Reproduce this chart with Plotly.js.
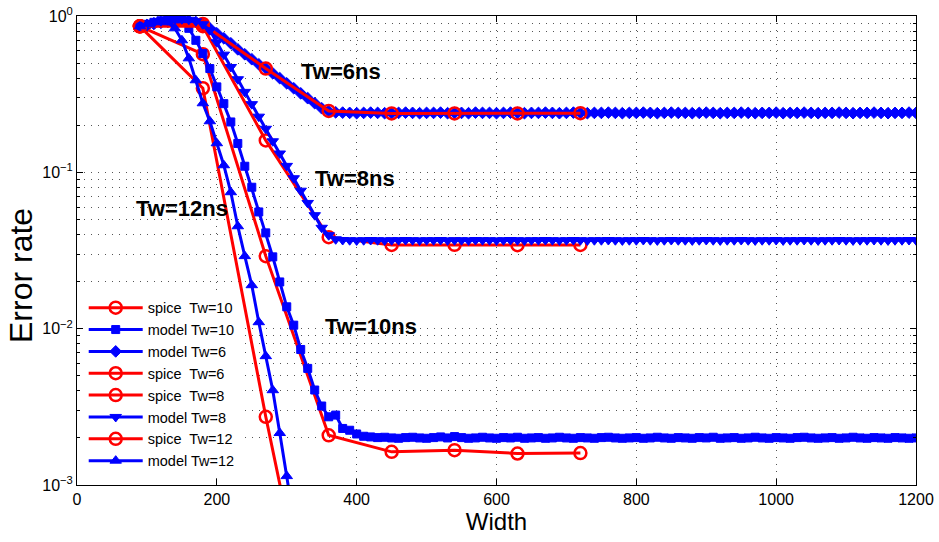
<!DOCTYPE html>
<html>
<head>
<meta charset="utf-8">
<script src="https://cdn.plot.ly/plotly-3.0.1.min.js"></script>
<style>
  html, body { margin: 0; padding: 0; background: #ffffff; }
  #chart { width: 939px; height: 542px; }
</style>
</head>
<body>
<div id="chart"></div>
<script>
// ---------------- data ----------------
const spiceX = [90, 180, 270, 360, 450, 540, 630, 720];
const spiceTw10 = [0.859, 0.57, 0.0291, 0.00208, 0.00163, 0.00167, 0.00159, 0.00160];
const spiceTw6  = [0.859, 0.89, 0.461, 0.247, 0.238, 0.238, 0.238, 0.239];
const spiceTw8  = [0.859, 0.86, 0.160, 0.0385, 0.0343, 0.0344, 0.0342, 0.0343];
const spiceTw12X = [90, 180, 270, 360];
const spiceTw12 = [0.859, 0.345, 0.00273, 0.000032];

const modelX = [90,100,110,120,130,140,150,160,170,180,
  190,200,210,220,230,240,250,260,270,280,
  290,300,310,320,330,340,350,360,370,380,
  390,400,410,420,430,440,450,460,470,480,
  490,500,510,520,530,540,550,560,570,580,
  590,600,610,620,630,640,650,660,670,680,
  690,700,710,720,730,740,750,760,770,780,
  790,800,810,820,830,840,850,860,870,880,
  890,900,910,920,930,940,950,960,970,980,
  990,1000,1010,1020,1030,1040,1050,1060,1070,1080,
  1090,1100,1110,1120,1130,1140,1150,1160,1170,1180,
  1190,1200];

const modelTw6 = [0.859,0.875,0.890,0.905,0.918,0.930,0.935,0.930,0.915,0.885,
  0.834,0.775,0.720,0.669,0.612,0.569,0.529,0.491,0.463,0.430,
  0.400,0.371,0.345,0.320,0.298,0.277,0.257,0.246,0.242,0.241,
  0.240,0.239,0.240,0.241,0.240,0.239,0.239,0.240,0.241,0.240,
  0.239,0.240,0.240,0.241,0.239,0.240,0.240,0.239,0.241,0.240,
  0.240,0.239,0.240,0.241,0.240,0.239,0.240,0.240,0.241,0.240,
  0.239,0.240,0.241,0.240,0.239,0.240,0.240,0.241,0.240,0.239,
  0.240,0.240,0.241,0.240,0.239,0.240,0.241,0.240,0.240,0.239,
  0.240,0.241,0.240,0.239,0.240,0.240,0.241,0.240,0.239,0.240,
  0.240,0.241,0.239,0.240,0.240,0.241,0.240,0.239,0.240,0.240,
  0.241,0.240,0.239,0.240,0.240,0.241,0.240,0.239,0.240,0.240,
  0.241,0.240];

const modelTw8 = [0.859,0.885,0.905,0.925,0.939,0.953,0.953,0.946,0.925,0.885,
  0.810,0.679,0.566,0.472,0.394,0.327,0.273,0.227,0.190,0.158,
  0.132,0.110,0.0917,0.0763,0.0637,0.0532,0.0442,0.0396,0.0373,0.0369,
  0.0368,0.0367,0.0368,0.0369,0.0368,0.0367,0.0368,0.0368,0.0369,0.0368,
  0.0367,0.0368,0.0368,0.0369,0.0367,0.0368,0.0368,0.0367,0.0369,0.0368,
  0.0368,0.0367,0.0368,0.0369,0.0368,0.0367,0.0368,0.0368,0.0369,0.0368,
  0.0367,0.0368,0.0369,0.0368,0.0367,0.0368,0.0368,0.0369,0.0368,0.0367,
  0.0368,0.0368,0.0369,0.0368,0.0367,0.0368,0.0369,0.0368,0.0368,0.0367,
  0.0368,0.0369,0.0368,0.0367,0.0368,0.0368,0.0369,0.0368,0.0367,0.0368,
  0.0368,0.0369,0.0367,0.0368,0.0368,0.0369,0.0368,0.0367,0.0368,0.0368,
  0.0369,0.0368,0.0367,0.0368,0.0368,0.0369,0.0368,0.0367,0.0368,0.0368,
  0.0369,0.0368];

const modelTw10 = [0.859,0.885,0.911,0.932,0.946,0.953,0.939,0.834,0.699,0.575,
  0.461,0.352,0.275,0.210,0.153,0.1094,0.0803,0.0558,0.0410,0.0288,
  0.0199,0.0138,0.01053,0.00736,0.00557,0.00405,0.00320,0.00273,0.00280,0.00230,
  0.00224,0.00212,0.00205,0.00203,0.00201,0.00202,0.00200,0.00199,0.00201,0.00202,
  0.00200,0.00199,0.00201,0.00203,0.00200,0.00204,0.00201,0.00199,0.00200,0.00202,
  0.00200,0.00199,0.00201,0.00200,0.00202,0.00199,0.00200,0.00201,0.00199,0.00200,
  0.00202,0.00200,0.00199,0.00201,0.00200,0.00199,0.00201,0.00202,0.00200,0.00199,
  0.00200,0.00201,0.00199,0.00200,0.00202,0.00200,0.00199,0.00201,0.00200,0.00199,
  0.00201,0.00200,0.00202,0.00199,0.00200,0.00201,0.00199,0.00200,0.00202,0.00200,
  0.00199,0.00201,0.00200,0.00199,0.00201,0.00202,0.00200,0.00199,0.00200,0.00201,
  0.00199,0.00200,0.00202,0.00200,0.00199,0.00201,0.00200,0.00199,0.00201,0.00200,
  0.00199,0.00200];

const modelTw12X = [90,100,110,120,130,140,150,160,170,180,
  190,200,210,220,230,240,250,260,270,280,290,300,310];
const modelTw12 = [0.859,0.885,0.911,0.925,0.911,0.834,0.699,0.536,0.388,0.2765,
  0.2122,0.1535,0.1110,0.0746,0.0452,0.0291,0.01897,0.0110,0.00667,0.00404,
  0.00215,0.00114,0.000597];

const yTickVals = [0.001, 0.01, 0.1, 1];
const yTickText = ['10<sup>\u22123</sup>', '10<sup>\u22122</sup>', '10<sup>\u22121</sup>', '10<sup>0</sup>'];
const xTickVals = [0, 200, 400, 600, 800, 1000, 1200];

const labels = [
  {text: 'Tw=6ns',  x: 378, y: 0.443},
  {text: 'Tw=8ns',  x: 397, y: 0.0917},
  {text: 'Tw=12ns', x: 150, y: 0.0589},
  {text: 'Tw=10ns', x: 421, y: 0.01038}
];

// ---------------- styling ----------------
const RED = '#ff0000';
const BLUE = '#0000ff';
const FONT = 'Liberation Sans, Arial, Helvetica, sans-serif';

function spice(name, x, y) {
  return {
    type: 'scatter', mode: 'lines+markers', name: name, x: x, y: y,
    line: {color: RED, width: 3},
    marker: {symbol: 'circle-open', size: 12, color: RED, line: {width: 2.5, color: RED}}
  };
}
function model(name, x, y, sym, size) {
  return {
    type: 'scatter', mode: 'lines+markers', name: name, x: x, y: y,
    line: {color: BLUE, width: 3},
    marker: {symbol: sym, size: size, color: BLUE, line: {width: 1, color: BLUE}}
  };
}

const traces = [
  spice('spice  Tw=10', spiceX, spiceTw10),
  model('model Tw=10', modelX, modelTw10, 'square', 8),
  model('model Tw=6', modelX, modelTw6, 'diamond', 9),
  spice('spice  Tw=6', spiceX, spiceTw6),
  spice('spice  Tw=8', spiceX, spiceTw8),
  model('model Tw=8', modelX, modelTw8, 'triangle-down', 10),
  spice('spice  Tw=12', spiceTw12X, spiceTw12),
  model('model Tw=12', modelTw12X, modelTw12, 'triangle-up', 10)
];

const minorY = [];
[0.001, 0.01, 0.1].forEach(function (d) {
  for (let m = 2; m <= 9; m++) minorY.push(m * d);
});

const annotations = labels.map(function (l) {
  return {
    text: '<b>' + l.text + '</b>', x: l.x, y: Math.log10(l.y), xref: 'x', yref: 'y',
    showarrow: false, font: {family: FONT, size: 22, color: '#000'}
  };
});
// y-axis title (placed as in the reference, slightly below the axis centre)
annotations.push({
  text: 'Error rate', xref: 'paper', yref: 'paper', x: -0.066, y: 0.447,
  xanchor: 'center', yanchor: 'middle', textangle: -90, showarrow: false,
  font: {family: FONT, size: 32, color: '#000'}
});

const layout = {
  width: 939, height: 542,
  margin: {l: 77, r: 23, t: 16, b: 57},
  paper_bgcolor: '#ffffff', plot_bgcolor: '#ffffff',
  font: {family: FONT, color: '#000000', size: 16},
  showlegend: true,
  legend: {
    x: 0.008, y: 0.412, xanchor: 'left', yanchor: 'top',
    bgcolor: '#ffffff', borderwidth: 0,
    font: {family: FONT, size: 14.5, color: '#000000'},
    itemwidth: 54, tracegroupgap: 0
  },
  xaxis: {
    range: [0, 1200], tickmode: 'array', tickvals: xTickVals,
    ticks: 'inside', ticklen: 6, tickcolor: '#000', tickwidth: 1,
    showline: true, linecolor: '#000', linewidth: 1, mirror: 'ticks',
    showgrid: true, gridcolor: '#555', griddash: '1px,6px', gridwidth: 1,
    zeroline: false,
    tickfont: {family: FONT, size: 16},
    title: {text: 'Width', font: {family: FONT, size: 24}, standoff: 2}
  },
  yaxis: {
    type: 'log', range: [-3, 0], tickmode: 'array',
    tickvals: yTickVals, ticktext: yTickText,
    ticks: 'inside', ticklen: 6, tickcolor: '#000', tickwidth: 1,
    showline: true, linecolor: '#000', linewidth: 1, mirror: 'ticks',
    showgrid: true, gridcolor: '#555', griddash: '1px,6px', gridwidth: 1,
    zeroline: false,
    minor: {tickmode: 'array', tickvals: minorY, ticks: 'inside', ticklen: 3,
            tickcolor: '#000', showgrid: true, gridcolor: '#555', griddash: '1px,6px', gridwidth: 1},
    tickfont: {family: FONT, size: 16}
  },
  annotations: annotations
};

Plotly.newPlot('chart', traces, layout, {displayModeBar: false, staticPlot: true});
</script>
</body>
</html>
